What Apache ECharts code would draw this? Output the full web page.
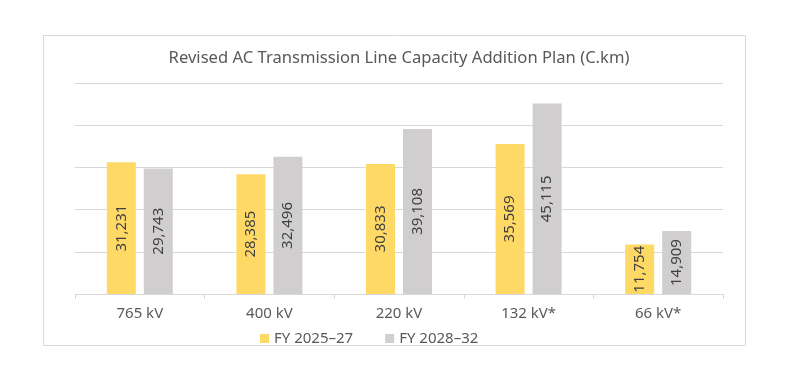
<!DOCTYPE html>
<html><head><meta charset="utf-8">
<script src="https://cdn.jsdelivr.net/npm/echarts@6/dist/echarts.min.js"></script>
<style>html,body{margin:0;padding:0;background:#fff}#c{width:798px;height:388px}</style>
</head><body><div id="c"></div>
<script>
const categories = ['765 kV', '400 kV', '220 kV', '132 kV*', '66 kV*'];
const seriesNames = ['FY 2025\u201327', 'FY 2028\u201332'];
const fy2025_27 = [31231, 28385, 30833, 35569, 11754];
const fy2028_32 = [29743, 32496, 39108, 45115, 14909];
const titleText = 'Revised AC Transmission Line Capacity Addition Plan (C.km)';

const FONT = 'Noto Sans';
const chart = echarts.init(document.getElementById('c'), null, {renderer: 'canvas'});
const lbl = {
  show: true, position: 'inside', rotate: 90, align: 'center', verticalAlign: 'middle',
  color: '#404040', fontFamily: FONT, fontSize: 15,
  formatter: p => p.value.toLocaleString('en-US')
};
chart.setOption({
  backgroundColor: '#ffffff',
  animation: false,
  graphic: [{type: 'rect', shape: {x: 43.5, y: 35.5, width: 702, height: 310}, style: {fill: 'none', stroke: '#d9d9d9', lineWidth: 1}, silent: true}],
  title: {text: titleText, left: 'center', top: 45, textStyle: {fontFamily: FONT, fontSize: 16.6, fontWeight: 'normal', color: '#595959'}},
  legend: {data: seriesNames, top: 326, left: 255, icon: 'rect', itemWidth: 9, itemHeight: 9, itemGap: 32, itemStyle: {borderWidth: 0},
    textStyle: {fontFamily: FONT, fontSize: 15, color: '#595959'}},
  grid: {left: 75, right: 75, top: 83, bottom: 94, containLabel: false},
  xAxis: {type: 'category', data: categories,
    axisLine: {lineStyle: {color: '#d9d9d9'}},
    axisTick: {show: true, length: 5, lineStyle: {color: '#d9d9d9'}},
    axisLabel: {fontFamily: FONT, fontSize: 15, color: '#595959', margin: 12}},
  yAxis: {type: 'value', min: 0, max: 50000, interval: 10000,
    axisLabel: {show: false}, axisLine: {show: false}, axisTick: {show: false},
    splitLine: {lineStyle: {color: '#d9d9d9'}}},
  series: [
    {name: seriesNames[0], type: 'bar', data: fy2025_27, barWidth: 29, barGap: '27.6%', itemStyle: {color: '#FFD966'}, label: lbl},
    {name: seriesNames[1], type: 'bar', data: fy2028_32, barWidth: 29, barGap: '27.6%', itemStyle: {color: '#D0CECE'}, label: lbl}
  ]
});
</script></body></html>
